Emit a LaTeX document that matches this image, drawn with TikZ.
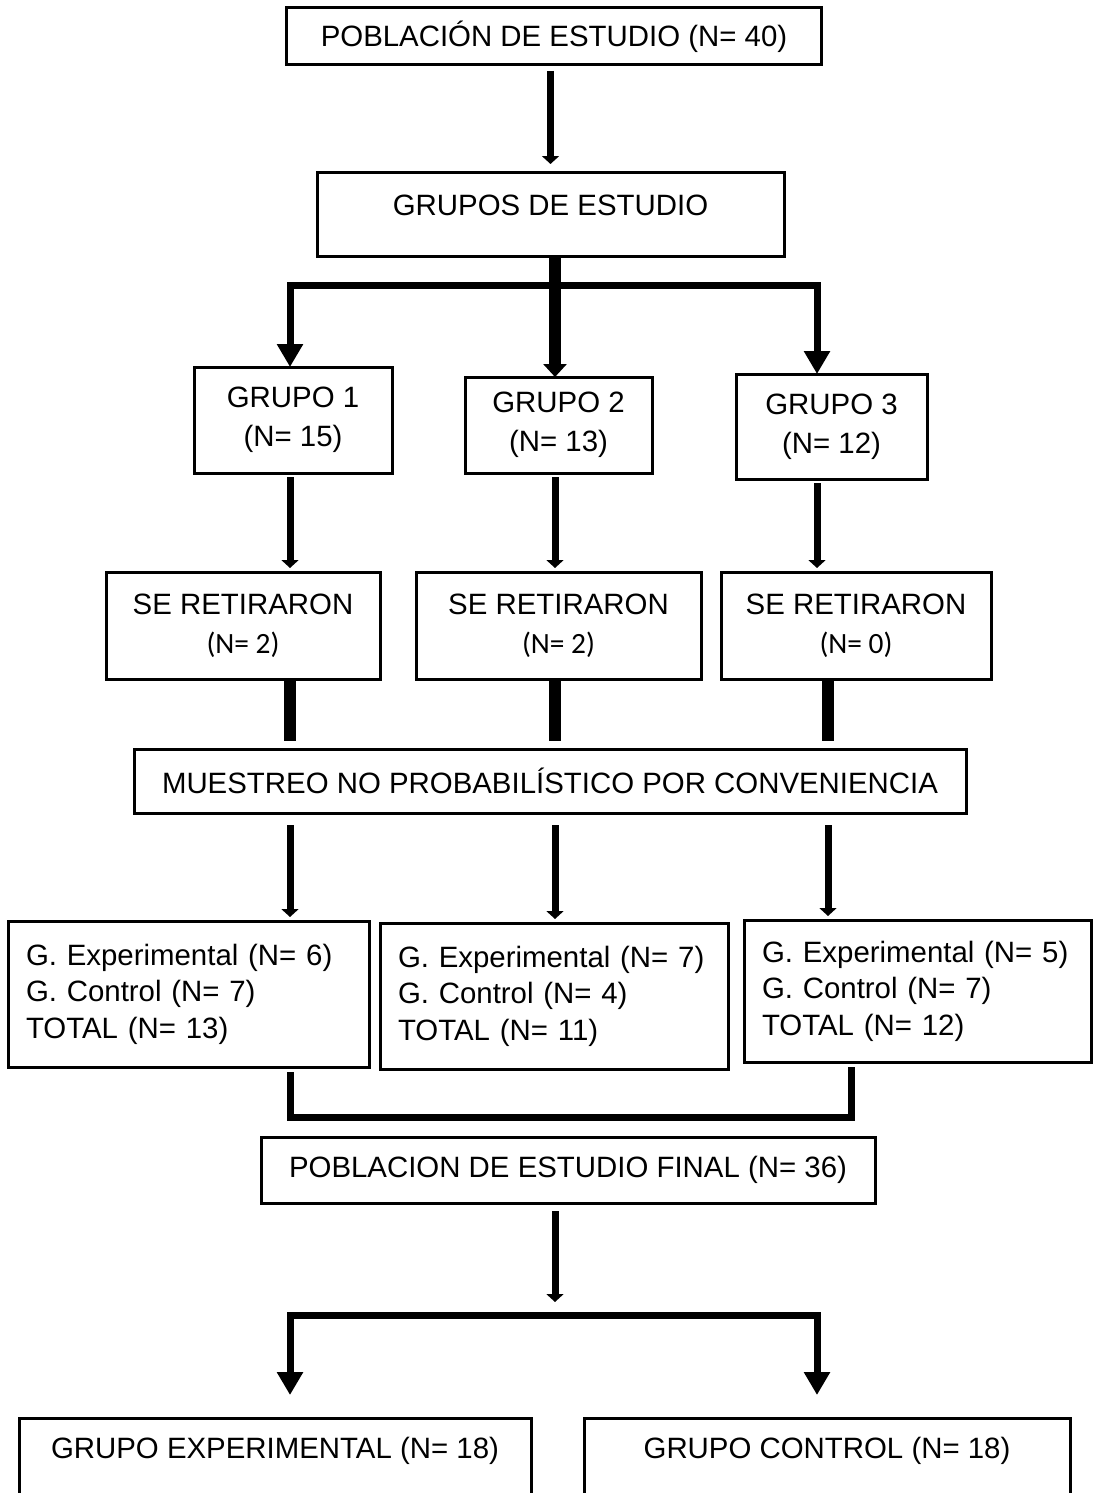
\documentclass[tikz,border=0pt]{standalone}
\usepackage{fontspec}
\setmainfont{Liberation Sans}
\newfontfamily\calibri{Carlito}
\usetikzlibrary{arrows.meta}

\begin{document}
\begin{tikzpicture}[x=0.5pt,y=-0.5pt,
    caja/.style={draw, line width=1.5pt, outer sep=0pt, inner sep=0pt, align=center, font=\fontsize{14.7}{19.3}\selectfont},
    subgrupo/.style={caja, align=left, inner xsep=9pt, minimum height=73pt, font=\fontsize{14.7}{18.3}\selectfont\frenchspacing},
    flecha/.style={line width=3.5pt, -{Triangle[width=8.5pt,length=4pt]}},
    flechagrande/.style={line width=3.5pt, -{Triangle[width=12.5pt,length=11.5pt]}},
    tronco/.style={line width=6pt, -{Triangle[width=11.5pt,length=6.5pt]}},
    barra/.style={line width=6pt},
    linea/.style={line width=3.5pt}]
  \useasboundingbox (0,0) rectangle (1093,1493);
  \clip (0,0) rectangle (1093,1493);
  \coordinate (k1) at (290,0); \coordinate (k2) at (555,0); \coordinate (k3) at (817,0);
  \coordinate (k4) at (828,0); \coordinate (k5) at (851,0);
  \coordinate (reparto) at (555,285); \coordinate (union) at (570,1117); \coordinate (division) at (555,1315);

  \node[caja, minimum width=267.5pt, minimum height=28.5pt] (poblacion) at (554,36.5) {POBLACIÓN DE ESTUDIO (N= 40)};
  \node[caja, anchor=north, minimum width=233.5pt, text height=11pt, text depth=9.5pt, inner ysep=10.75pt] (grupos) at (550.5,172) {GRUPOS DE ESTUDIO};

  \node[caja, minimum width=99pt, minimum height=53pt] (g1) at (293,420) {GRUPO 1\\(N= 15)};
  \node[caja, minimum width=93.5pt, minimum height=48pt] (g2) at (558.5,425) {GRUPO 2\\(N= 13)};
  \node[caja, minimum width=95.5pt, minimum height=52.5pt] (g3) at (831.5,426.5) {GRUPO 3\\(N= 12)};

  \node[caja, minimum width=137pt, minimum height=53.5pt] (r1) at (243,625.5) {SE RETIRARON\\{\calibri (N= 2)}};
  \node[caja, minimum width=142.5pt, minimum height=53.5pt] (r2) at (558.5,625.5) {SE RETIRARON\\{\calibri (N= 2)}};
  \node[caja, minimum width=135pt, minimum height=53.5pt] (r3) at (856,625.5) {SE RETIRARON\\{\calibri (N= 0)}};

  \node[caja, minimum width=416pt, minimum height=32pt] (muestreo) at (550,781) {MUESTREO NO PROBABILÍSTICO POR CONVENIENCIA};

  \node[subgrupo, text width=162.5pt] (t1) at (188.5,994) {G. Experimental (N= 6)\\G. Control (N= 7)\\TOTAL (N= 13)};
  \node[subgrupo, text width=156pt] (t2) at (554,996) {G. Experimental (N= 7)\\G. Control (N= 4)\\TOTAL (N= 11)};
  \node[subgrupo, text width=155.5pt, minimum height=71pt] (t3) at (917.5,991) {G. Experimental (N= 5)\\G. Control (N= 7)\\TOTAL (N= 12)};

  \node[caja, minimum width=307pt, minimum height=33pt] (final) at (568,1170) {POBLACION DE ESTUDIO FINAL (N= 36)};

  \node[caja, anchor=north, minimum width=256pt, text height=11pt, text depth=26.5pt, inner ysep=9.25pt] (experimental) at (275,1418) {GRUPO EXPERIMENTAL (N= 18)};
  \node[caja, anchor=north, minimum width=243pt, text height=11pt, text depth=26.5pt, inner ysep=9.25pt] (control) at (827,1418) {GRUPO CONTROL (N= 18)};

  \draw[flecha, shorten <=3pt, shorten >=4pt] (poblacion.south -| grupos.north) -- (grupos.north);
  \draw[tronco] (k2 |- grupos.south) -- (k2 |- g2.north);
  \draw[flechagrande] (reparto) -| (k1 |- g1.north);
  \draw[flechagrande] (reparto) -| (k3 |- g3.north);

  \draw[flecha, shorten <=2pt, shorten >=2pt] (k1 |- g1.south) -- (k1 |- r1.north);
  \draw[flecha, shorten <=2pt, shorten >=2pt] (k2 |- g2.south) -- (k2 |- r2.north);
  \draw[flecha, shorten <=2pt, shorten >=2pt] (k3 |- g3.south) -- (k3 |- r3.north);

  \draw[barra, shorten >=4pt] (k1 |- r1.south) -- (k1 |- muestreo.north);
  \draw[barra, shorten >=4pt] (k2 |- r2.south) -- (k2 |- muestreo.north);
  \draw[barra, shorten >=4pt] (k4 |- r3.south) -- (k4 |- muestreo.north);

  \draw[flecha, shorten <=6pt, shorten >=2pt] (k1 |- muestreo.south) -- (k1 |- t1.north);
  \draw[flecha, shorten <=6pt, shorten >=2pt] (k2 |- muestreo.south) -- (k2 |- t2.north);
  \draw[flecha, shorten <=6pt, shorten >=2pt] (k4 |- muestreo.south) -- (k4 |- t3.north);

  \draw[linea, shorten <=2.5pt, shorten >=2.5pt] (k1 |- t1.south) |- (union) -| (k5 |- t3.south);

  \draw[flecha, shorten <=4pt, shorten >=6.5pt] (k2 |- final.south) -- (division);
  \draw[flechagrande, shorten >=11.5pt] (division) -| (k1 |- experimental.north);
  \draw[flechagrande, shorten >=11.5pt] (division) -| (k3 |- control.north);
\end{tikzpicture}
\end{document}
